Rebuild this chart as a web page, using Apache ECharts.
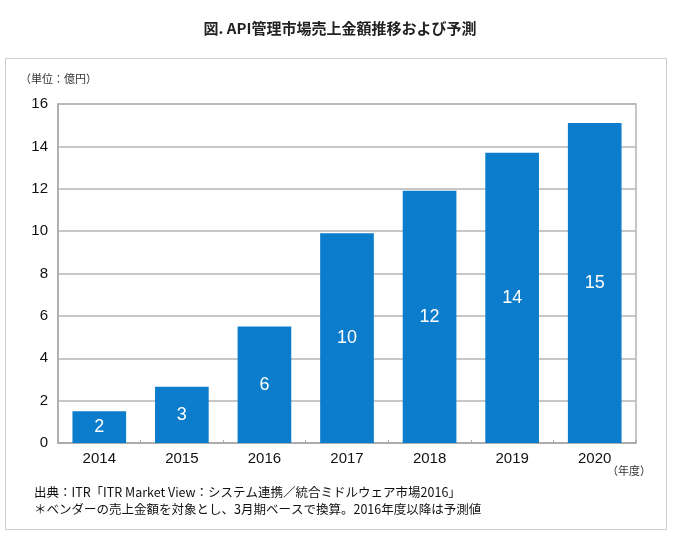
<!DOCTYPE html>
<html><head><meta charset="utf-8">
<script src="https://cdn.jsdelivr.net/npm/echarts@6/dist/echarts.min.js"></script>
<style>html,body{margin:0;padding:0;background:#fff}#c{width:680px;height:545px}</style>
</head><body><div id="c"></div>
<script>
const categories = ['2014','2015','2016','2017','2018','2019','2020'];
const values = [1.5, 2.65, 5.5, 9.9, 11.9, 13.7, 15.1];
const yTicks = [0, 2, 4, 6, 8, 10, 12, 14, 16];
const font = '"Liberation Sans", Arial, "Noto Sans CJK JP", sans-serif';
const chart = echarts.init(document.getElementById('c'));
chart.setOption({
  animation: false,
  graphic: [
    {type:'rect', shape:{x:5.5,y:58.5,width:661,height:471}, style:{fill:'none',stroke:'#cfcfcf',lineWidth:1}},
    {type:'text', left:'center', top:21, style:{text:'図. API管理市場売上金額推移および予測', font:'bold 15px "Noto Sans CJK JP", sans-serif', fill:'#222'}},
    {type:'text', left:20, top:73, style:{text:'（単位：億円）', font:'11px "Noto Sans CJK JP", sans-serif', fill:'#333'}},
    {type:'text', left:607, top:465, style:{text:'（年度）', font:'11px "Noto Sans CJK JP", sans-serif', fill:'#333'}},
    {type:'text', left:34, top:486, style:{text:'出典：ITR「ITR Market View：システム連携／統合ミドルウェア市場2016」', font:'12.5px "Noto Sans CJK JP", sans-serif', fill:'#111'}},
    {type:'text', left:34, top:503, style:{text:'＊ベンダーの売上金額を対象とし、3月期ベースで換算。2016年度以降は予測値', font:'12.5px "Noto Sans CJK JP", sans-serif', fill:'#111'}}
  ],
  grid: {left:58, right:44, top:104, bottom:102, show:true, borderColor:'#b5b5b5', borderWidth:1.5},
  xAxis: {
    type:'category', data:categories,
    axisLine:{lineStyle:{color:'#a8a8a8', width:1.5}},
    axisTick:{show:true, inside:true, length:3, lineStyle:{color:'#a8a8a8'}},
    axisLabel:{color:'#111', fontSize:15, fontFamily:font, margin:8}
  },
  yAxis: {
    type:'value', min:yTicks[0], max:yTicks[yTicks.length-1], interval:2,
    axisLine:{show:true, lineStyle:{color:'#a8a8a8', width:1.5}},
    axisTick:{show:false},
    splitLine:{lineStyle:{color:'#b5b5b5', width:1.5}},
    axisLabel:{color:'#111', fontSize:15, fontFamily:font, margin:10}
  },
  series: [{
    type:'bar', data:values, barWidth:'65%',
    itemStyle:{color:'#0b7dcc'},
    label:{show:true, position:'inside', color:'#fff', fontSize:18, fontFamily:font,
      formatter:p=>Math.round(p.value)}
  }]
});
</script></body></html>
